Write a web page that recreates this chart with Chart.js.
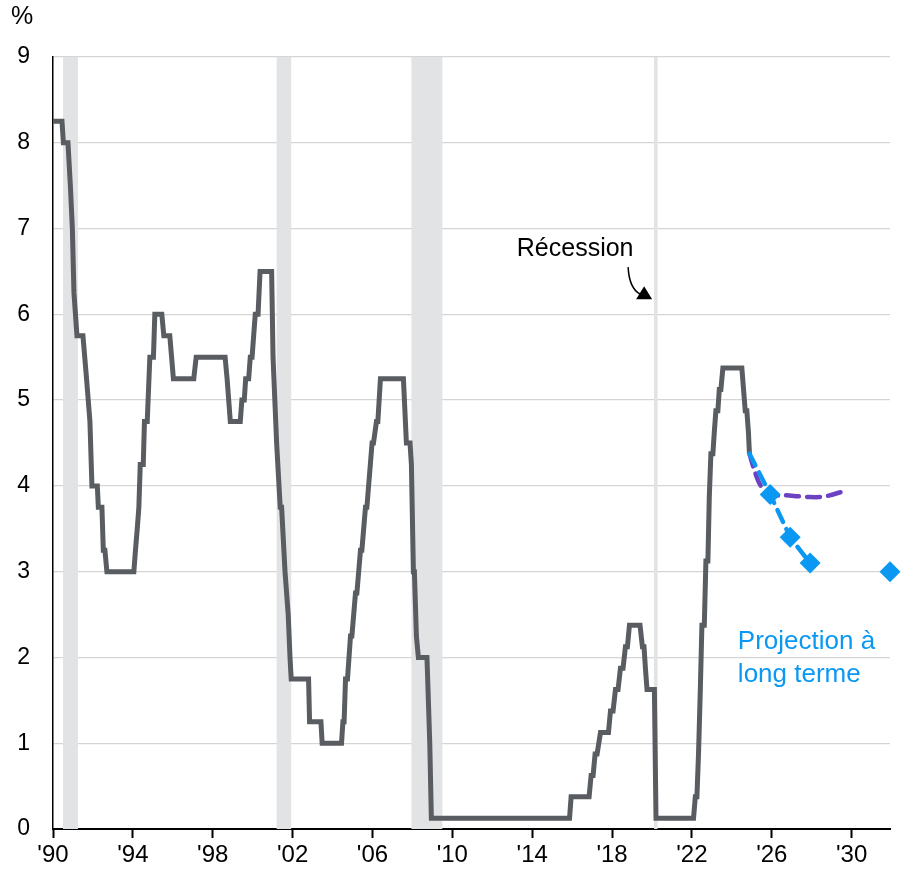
<!DOCTYPE html>
<html>
<head>
<meta charset="utf-8">
<script src="https://cdn.jsdelivr.net/npm/chart.js@4.4.1/dist/chart.umd.min.js"></script>
<style>
  html, body { margin: 0; padding: 0; background: #fff; }
  #wrap { width: 908px; height: 873px; }
</style>
</head>
<body>
<div id="wrap"><canvas id="rateChart" width="908" height="873"></canvas></div>
<script>
// Policy rate (midpoint of target range), vertices as decimal years
const policyYears = [
  1990.00, 1990.45, 1990.52, 1990.75, 1990.87, 1990.97, 1991.05, 1991.20, 1991.50, 1991.68,
  1991.85, 1991.95, 1992.22, 1992.27, 1992.45, 1992.52, 1992.60, 1992.70, 1994.05, 1994.13,
  1994.22, 1994.30, 1994.37, 1994.52, 1994.58, 1994.72, 1994.85, 1995.03, 1995.10, 1995.45,
  1995.55, 1995.85, 1996.03, 1997.05, 1997.17, 1998.62, 1998.72, 1998.80, 1998.88, 1999.38,
  1999.46, 1999.58, 1999.65, 1999.80, 1999.88, 1999.97, 2000.05, 2000.13, 2000.27, 2000.37,
  2000.95, 2001.02, 2001.20, 2001.38, 2001.45, 2001.62, 2001.78, 2001.87, 2001.93, 2002.80,
  2002.85, 2003.42, 2003.48, 2004.45, 2004.52, 2004.58, 2004.65, 2004.75, 2004.90, 2004.97,
  2005.15, 2005.22, 2005.40, 2005.47, 2005.65, 2005.72, 2005.98, 2006.05, 2006.20, 2006.27,
  2006.40, 2007.55, 2007.70, 2007.88, 2007.95, 2008.05, 2008.10, 2008.20, 2008.30, 2008.73,
  2008.80, 2008.87, 2008.95, 2015.87, 2015.95, 2016.85, 2016.95, 2017.05, 2017.15, 2017.25,
  2017.42, 2017.82, 2017.92, 2018.05, 2018.17, 2018.30, 2018.42, 2018.55, 2018.67, 2018.77,
  2018.87, 2019.40, 2019.52, 2019.60, 2019.67, 2019.75, 2020.12, 2020.20, 2022.08, 2022.17,
  2022.25, 2022.33, 2022.42, 2022.50, 2022.62, 2022.70, 2022.80, 2022.87, 2022.95, 2023.05,
  2023.12, 2023.20, 2023.30, 2023.37, 2023.45, 2023.55, 2024.50, 2024.67, 2024.75, 2024.83,
  2024.88
];
const policyRates = [
  8.25, 8.25, 8.00, 8.00, 7.50, 7.00, 6.25, 5.75, 5.75, 5.25,
  4.75, 4.00, 4.00, 3.75, 3.75, 3.25, 3.25, 3.00, 3.00, 3.25,
  3.50, 3.75, 4.25, 4.25, 4.75, 4.75, 5.50, 5.50, 6.00, 6.00,
  5.75, 5.75, 5.25, 5.25, 5.50, 5.50, 5.25, 5.00, 4.75, 4.75,
  5.00, 5.00, 5.25, 5.25, 5.50, 5.50, 5.75, 6.00, 6.00, 6.50,
  6.50, 5.50, 4.50, 3.75, 3.75, 3.00, 2.50, 2.00, 1.75, 1.75,
  1.25, 1.25, 1.00, 1.00, 1.25, 1.25, 1.75, 1.75, 2.25, 2.25,
  2.75, 2.75, 3.25, 3.25, 3.75, 3.75, 4.50, 4.50, 4.75, 4.75,
  5.25, 5.25, 4.50, 4.50, 4.25, 3.00, 3.00, 2.25, 2.00, 2.00,
  1.50, 1.00, 0.125, 0.125, 0.375, 0.375, 0.625, 0.625, 0.875, 0.875,
  1.125, 1.125, 1.375, 1.375, 1.625, 1.625, 1.875, 1.875, 2.125, 2.125,
  2.375, 2.375, 2.125, 2.125, 1.875, 1.625, 1.625, 0.125, 0.125, 0.375,
  0.375, 0.875, 1.625, 2.375, 2.375, 3.125, 3.125, 3.875, 4.375, 4.375,
  4.625, 4.875, 4.875, 5.125, 5.125, 5.375, 5.375, 4.875, 4.875, 4.625,
  4.375
];

// Committee projections (year-end) starting from the last observed rate
const projYears = [2024.88, 2025.92, 2026.92, 2027.92];
const projRates = [4.375, 3.9, 3.4, 3.1];

// Long-run projection
const longRunYears = [2031.92];
const longRunRates = [3.0];

// Market expectations
const marketYears = [2024.88, 2025.10, 2025.40, 2025.75, 2026.20, 2026.70, 2027.30, 2027.90, 2028.40, 2028.90, 2029.50];
const marketRates = [4.375, 4.20, 4.02, 3.92, 3.89, 3.89, 3.88, 3.87, 3.87, 3.89, 3.93];

// Recessions
const recessionStart = [1990.50, 2001.20, 2007.95, 2020.10];
const recessionEnd = [1991.25, 2001.93, 2009.50, 2020.28];

const xTickYears = [1990, 1994, 1998, 2002, 2006, 2010, 2014, 2018, 2022, 2026, 2030];

const FONT = "'Liberation Sans', Arial, sans-serif";
const GRAY = '#595C60';
const BLUE = '#0A98F2';
const PURPLE = '#6C42C2';

function pts(xs, ys) {
    return xs.map((x, i) => ({ x: x, y: ys[i] }));
}

// shaded recession bands, drawn behind the lines
const recessionPlugin = {
    id: 'recessions',
    beforeDatasetsDraw(chart) {
        const { ctx, chartArea, scales } = chart;
        ctx.save();
        ctx.fillStyle = '#E2E3E5';
        for (let i = 0; i < recessionStart.length; i++) {
            const x0 = scales.x.getPixelForValue(recessionStart[i]);
            const x1 = scales.x.getPixelForValue(recessionEnd[i]);
            ctx.fillRect(x0, chartArea.top, x1 - x0, chartArea.bottom - chartArea.top);
        }
        ctx.restore();
    }
};

// text labels and the recession arrow
const notesPlugin = {
    id: 'notes',
    afterDraw(chart) {
        const { ctx, scales } = chart;
        ctx.save();
        ctx.fillStyle = '#000';
        ctx.font = '25px ' + FONT;
        ctx.textAlign = 'center';
        ctx.textBaseline = 'middle';
        ctx.fillText('%', 22, 17);

        // "Récession" label
        const rx = scales.x.getPixelForValue(2016.15);
        const ry = scales.y.getPixelForValue(6.76);
        ctx.font = '25px ' + FONT;
        ctx.fillText('Récession', rx, ry);

        // curved arrow toward the 2020 band
        const ax = rx + 53, ay = ry + 18;
        ctx.strokeStyle = '#000';
        ctx.lineWidth = 1.5;
        ctx.beginPath();
        ctx.moveTo(ax, ay);
        ctx.quadraticCurveTo(ax + 1, ay + 21, ax + 12, ay + 27);
        ctx.stroke();
        ctx.beginPath();
        ctx.moveTo(ax + 24, ay + 32);
        ctx.lineTo(ax + 16, ay + 19);
        ctx.lineTo(ax + 8, ay + 32);
        ctx.closePath();
        ctx.fill();

        // long-run projection label
        ctx.fillStyle = BLUE;
        ctx.font = '26px ' + FONT;
        ctx.textAlign = 'left';
        const px = scales.x.getPixelForValue(2024.3);
        ctx.fillText('Projection à', px, scales.y.getPixelForValue(2.18));
        ctx.fillText('long terme', px, scales.y.getPixelForValue(1.8));
        ctx.restore();
    }
};

const ctx = document.getElementById('rateChart').getContext('2d');
const rateChart = new Chart(ctx, {
    type: 'line',
    data: {
        datasets: [
            {
                label: 'Projections',
                data: pts(projYears, projRates),
                borderColor: BLUE,
                backgroundColor: BLUE,
                borderWidth: 4.5,
                borderDash: [13, 8],
                borderCapStyle: 'round',
                pointStyle: 'rectRot',
                pointRadius: c => c.dataIndex === 0 ? 0 : 10.5,
                pointBorderWidth: 0,
                clip: false,
                order: 0
            },
            {
                label: 'Long terme',
                data: pts(longRunYears, longRunRates),
                showLine: false,
                borderColor: BLUE,
                backgroundColor: BLUE,
                pointStyle: 'rectRot',
                pointRadius: 10.5,
                pointBorderWidth: 0,
                clip: false,
                order: 0
            },
            {
                label: 'Marché',
                data: pts(marketYears, marketRates),
                borderColor: PURPLE,
                borderWidth: 4.5,
                borderDash: [13, 8],
                borderCapStyle: 'round',
                pointRadius: 0,
                tension: 0.3,
                order: 1
            },
            {
                label: 'Taux directeur',
                data: pts(policyYears, policyRates),
                borderColor: GRAY,
                borderWidth: 5,
                pointRadius: 0,
                tension: 0,
                order: 2
            }
        ]
    },
    options: {
        responsive: false,
        animation: false,
        layout: { padding: { top: 57, right: 18, left: 0, bottom: 0 } },
        plugins: { legend: { display: false }, tooltip: { enabled: false } },
        scales: {
            x: {
                type: 'linear',
                min: 1990,
                max: 2031.92,
                afterBuildTicks: s => { s.ticks = xTickYears.map(v => ({ value: v })); },
                afterFit: s => { s.height = 44; },
                ticks: {
                    callback: v => "'" + String(v).slice(2),
                    color: '#000',
                    font: { family: FONT, size: 24 },
                    padding: 3,
                    maxRotation: 0,
                    autoSkip: false
                },
                grid: { drawOnChartArea: false, drawTicks: true, tickLength: 9, tickColor: '#000', tickWidth: 2 },
                border: { color: '#000', width: 2 }
            },
            y: {
                min: 0,
                max: 9,
                afterFit: s => { s.width = 53; },
                ticks: {
                    stepSize: 1,
                    color: '#000',
                    font: { family: FONT, size: 23 },
                    padding: 23
                },
                grid: { color: '#D5D5D5', lineWidth: 1.3, drawTicks: false },
                border: { color: '#000', width: 1.5 }
            }
        }
    },
    plugins: [recessionPlugin, notesPlugin]
});
</script>
</body>
</html>
